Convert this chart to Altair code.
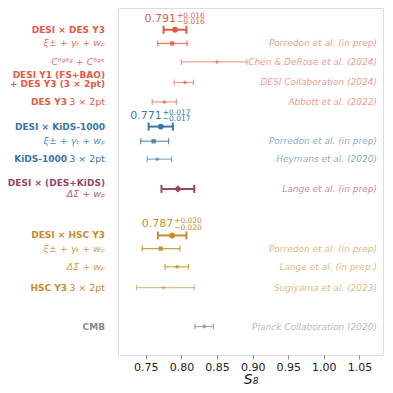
import altair as alt
import pandas as pd

# ---- data -------------------------------------------------------------
row_pos = [22.7, 37, 56.3, 77.7, 98, 123.7, 139, 157.7, 188.7, 237.3, 251, 270, 291.7, 332.3]
s8 = [0.791, 0.787, 0.850, 0.805, 0.776, 0.771, 0.761, 0.766, 0.795, 0.787, 0.771, 0.794, 0.775, 0.832]
err_lo = [0.016, 0.020, 0.050, 0.015, 0.017, 0.017, 0.018, 0.014, 0.023, 0.020, 0.026, 0.017, 0.038, 0.013]
err_hi = [0.016, 0.021, 0.042, 0.012, 0.017, 0.017, 0.021, 0.020, 0.023, 0.020, 0.027, 0.016, 0.043, 0.013]
group = ["DES", "DES", "DES", "DES", "DES", "KiDS", "KiDS", "KiDS", "DESKiDS",
         "HSC", "HSC", "HSC", "HSC", "CMB"]
kind = ["main", "sub", "sub", "sub", "sub", "main", "sub", "sub", "main",
        "main", "sub", "sub", "sub", "sub"]
shape = ["circle", "square", "diamond", "diamond", "diamond", "circle", "square", "diamond",
         "diamond", "circle", "square", "diamond", "diamond", "diamond"]
alpha = [1.0, 0.8, 0.55, 0.6, 0.6, 1.0, 0.8, 0.6, 1.0, 1.0, 0.85, 0.8, 0.55, 0.75]
label_bold = ["DESI × DES Y3", "", "", "DESI Y1 (FS+BAO)\n+ DES Y3 (3 × 2pt)", "DES Y3",
              "DESI × KiDS-1000", "", "KiDS-1000", "DESI × (DES+KiDS)",
              "DESI × HSC Y3", "", "", "HSC Y3", "CMB"]
label_tail = ["", "", "", "", "3 × 2pt", "", "", "3 × 2pt", "", "", "", "", "3 × 2pt", ""]
label_math = ["", "ξ± + γₜ + wₚ", "Cᵟᵍᵟᵍ + Cᵟᵍᵏ", "", "", "", "ξ± + γₜ + wₚ", "",
              "ΔΣ + wₚ", "", "ξ± + γₜ + wₚ", "ΔΣ + wₚ", "", ""]
reference = ["", "Porredon et al. (in prep)", "Chen & DeRose et al. (2024)",
             "DESI Collaboration (2024)", "Abbott et al. (2022)", "",
             "Porredon et al. (in prep)", "Heymans et al. (2020)", "Lange et al. (in prep)",
             "", "Porredon et al. (in prep)", "Lange et al. (in prep.)",
             "Sugiyama et al. (2023)", "Planck Collaboration (2020)"]
annot_main = ["0.791", "", "", "", "", "0.771", "", "", "", "0.787", "", "", "", ""]
annot_up = ["+0.016", "", "", "", "", "+0.017", "", "", "", "+0.020", "", "", "", ""]
annot_dn = ["−0.016", "", "", "", "", "−0.017", "", "", "", "−0.020", "", "", "", ""]

x_ticks = [0.75, 0.80, 0.85, 0.90, 0.95, 1.00, 1.05]

group_names = ["DES", "KiDS", "DESKiDS", "HSC", "CMB"]
group_colors = ["#e25a45", "#3a76a6", "#9a4568", "#c98b2c", "#8a8a8a"]

df = pd.DataFrame(dict(
    pos=row_pos, s8=s8, lo=[v - e for v, e in zip(s8, err_lo)],
    hi=[v + e for v, e in zip(s8, err_hi)], group=group, kind=kind, shape=shape,
    alpha=alpha, bold=label_bold, tail=label_tail, math=label_math, ref=reference,
    am=annot_main, au=annot_up, ad=annot_dn,
))
df["bold_lines"] = df["bold"].str.split("\n")
df["multi"] = df["bold"].str.contains("\n")

W, H = 265, 347
xs = alt.Scale(domain=[0.711, 1.083], nice=False, zero=False)
ys = alt.Scale(domain=[0, 362], reverse=True, nice=False, zero=False)
col = alt.Color("group:N", scale=alt.Scale(domain=group_names, range=group_colors), legend=None)
op = alt.Opacity("alpha:Q", scale=None, legend=None)

base = alt.Chart(df)
Y = alt.Y("pos:Q", scale=ys, axis=None)

xaxis = alt.Axis(values=x_ticks, format=".2f", labelFontSize=11, labelColor="#222",
                 labelFont="DejaVu Sans", tickColor="#888", tickSize=4, domain=False,
                 grid=False, title="S₈", titleFontSize=14, titleFont="DejaVu Sans",
                 titleFontStyle="italic", titleFontWeight="normal", titleColor="#111",
                 titlePadding=0, labelPadding=2)

LF = 9  # left bold label font size
MF = 9.5  # math / plain label font size

layers = []
for k, lw, cap, msize in [("main", 2.0, 8, 34), ("sub", 1.2, 6, 20)]:
    b = base.transform_filter(alt.datum.kind == k)
    layers.append(b.mark_rule(strokeWidth=lw).encode(
        x=alt.X("lo:Q", scale=xs, axis=xaxis), x2="hi:Q", y=Y, color=col, opacity=op))
    for fld in ["lo", "hi"]:
        layers.append(b.mark_tick(orient="vertical", size=cap, thickness=lw).encode(
            x=alt.X(f"{fld}:Q", scale=xs), y=Y, color=col, opacity=op))
    for shp in ["circle", "square", "diamond"]:
        sz = msize * (1.6 if (k == "main" and shp == "diamond") else 1)
        layers.append(b.transform_filter(alt.datum.shape == shp).mark_point(
            filled=True, shape=shp, size=sz).encode(
            x=alt.X("s8:Q", scale=xs), y=Y, color=col, opacity=op))

# annotations above main points
ann = base.transform_filter(alt.datum.am != "")
layers.append(ann.mark_text(align="right", baseline="middle", fontSize=11, dy=-11, dx=1,
                            font="DejaVu Sans").encode(
    x=alt.X("s8:Q", scale=xs), y=Y, text="am:N", color=col))
layers.append(ann.mark_text(align="left", baseline="middle", fontSize=7.5, dy=-14, dx=2,
                            font="DejaVu Sans").encode(
    x=alt.X("s8:Q", scale=xs), y=Y, text="au:N", color=col))
layers.append(ann.mark_text(align="left", baseline="middle", fontSize=7.5, dy=-7.5, dx=2,
                            font="DejaVu Sans").encode(
    x=alt.X("s8:Q", scale=xs), y=Y, text="ad:N", color=col))

# right-hand references
layers.append(base.transform_filter(alt.datum.ref != "").mark_text(
    align="right", baseline="middle", fontSize=9, fontStyle="italic", font="DejaVu Sans",
    opacity=0.6).encode(x=alt.value(W - 6), y=Y, text="ref:N", color=col))

# left labels
single = "datum.bold != '' && datum.math == '' && datum.tail == ''"
layers.append(base.transform_filter(single + " && !datum.multi").mark_text(
    align="right", baseline="middle", fontSize=LF, fontWeight="bold", font="DejaVu Sans").encode(
    x=alt.value(-13), y=Y, text="bold:N", color=col))
layers.append(base.transform_filter(single + " && datum.multi").mark_text(
    align="right", baseline="middle", fontSize=LF, fontWeight="bold", font="DejaVu Sans",
    lineHeight=9, dy=-7).encode(x=alt.value(-13), y=Y, text="bold_lines", color=col))
layers.append(base.transform_filter("datum.bold != '' && datum.tail != ''").mark_text(
    align="right", baseline="middle", fontSize=LF, fontWeight="bold", font="DejaVu Sans").encode(
    x=alt.value(-51), y=Y, text="bold:N", color=col))
layers.append(base.transform_filter("datum.tail != ''").mark_text(
    align="right", baseline="middle", fontSize=MF, font="DejaVu Sans").encode(
    x=alt.value(-13), y=Y, text="tail:N", color=col))
layers.append(base.transform_filter("datum.bold == '' && datum.math != ''").mark_text(
    align="right", baseline="middle", fontSize=MF, fontStyle="italic", font="DejaVu Sans",
    opacity=0.85).encode(x=alt.value(-13), y=Y, text="math:N", color=col))
both = base.transform_filter("datum.bold != '' && datum.math != ''")
layers.append(both.mark_text(align="right", baseline="middle", fontSize=LF, fontWeight="bold",
                             font="DejaVu Sans", dy=-5.5).encode(
    x=alt.value(-13), y=Y, text="bold:N", color=col))
layers.append(both.mark_text(align="right", baseline="middle", fontSize=MF, fontStyle="italic",
                             font="DejaVu Sans", dy=5, opacity=0.85).encode(
    x=alt.value(-13), y=Y, text="math:N", color=col))

chart = alt.layer(*layers).properties(
    width=W, height=H, padding={"left": 110, "top": 0, "right": 2, "bottom": 30},
    autosize=alt.AutoSizeParams(type="none"),
).configure_view(stroke="#999", strokeWidth=1).configure(background="white")

chart.save("out.html", embed_options={"renderer": "svg", "actions": False})
